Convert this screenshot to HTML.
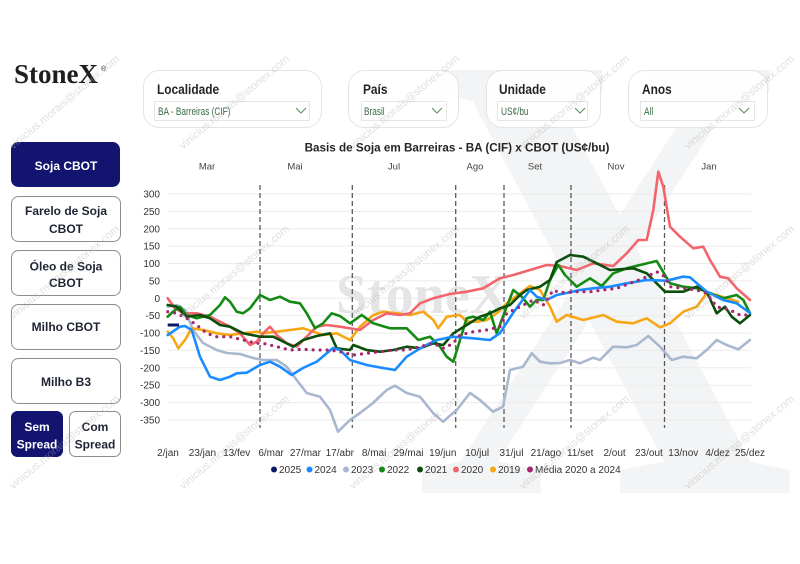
<!DOCTYPE html>
<html><head><meta charset="utf-8"><style>
html,body{margin:0;padding:0;background:#fff;width:800px;height:564px;overflow:hidden}
body{position:relative}
svg{display:block;position:absolute;left:0;top:0}
.s{font-family:"Liberation Sans",Arial,sans-serif}
#bx{position:absolute;left:400px;top:40px;width:400px;height:460px;overflow:hidden}
#bx span{position:absolute;left:12px;top:35px;height:400px;font-family:"Liberation Serif",serif;font-weight:bold;font-size:646px;line-height:400px;color:#f3f4f5;transform:scaleX(0.823);transform-origin:0 0;white-space:nowrap}
</style></head><body>
<div id="bx"><span>X</span></div>
<svg width="800" height="564" viewBox="0 0 800 564" xmlns="http://www.w3.org/2000/svg" class="s">

<!-- logo -->
<text x="14" y="83" font-family="Liberation Serif,serif" font-weight="bold" font-size="27" fill="#1e1e1e">StoneX</text>
<text x="101" y="71" font-size="7" fill="#1e1e1e">®</text>

<!-- filter cards -->
<g>
<rect x="143.5" y="70.5" width="178" height="57" rx="16" fill="#fff" fill-opacity="0.9" stroke="#e4e4e4"/>
<text font-size="14" font-weight="bold" fill="#252423" transform="translate(157,94) scale(0.85,1)">Localidade</text>
<rect x="154.5" y="101.5" width="155" height="19" fill="#fff" stroke="#e6e6e6"/>
<text font-size="11" fill="#3a6b45" transform="translate(158,115) scale(0.75,1)">BA - Barreiras (CIF)</text>
<polyline points="296,108 301,113 306,108" fill="none" stroke="#5a8a5a" stroke-width="1"/>

<rect x="348.5" y="70.5" width="110" height="57" rx="16" fill="#fff" fill-opacity="0.9" stroke="#e4e4e4"/>
<text font-size="14" font-weight="bold" fill="#252423" transform="translate(363,94) scale(0.85,1)">País</text>
<rect x="361.5" y="101.5" width="85" height="19" fill="#fff" stroke="#e6e6e6"/>
<text font-size="11" fill="#3a6b45" transform="translate(364,115) scale(0.75,1)">Brasil</text>
<polyline points="432,108 437,113 442,108" fill="none" stroke="#5a8a5a" stroke-width="1"/>

<rect x="486.5" y="70.5" width="114" height="57" rx="16" fill="#fff" fill-opacity="0.9" stroke="#e4e4e4"/>
<text font-size="14" font-weight="bold" fill="#252423" transform="translate(499,94) scale(0.85,1)">Unidade</text>
<rect x="497.5" y="101.5" width="90" height="19" fill="#fff" stroke="#e6e6e6"/>
<text font-size="11" fill="#3a6b45" transform="translate(501,115) scale(0.75,1)">US¢/bu</text>
<polyline points="575,108 580,113 585,108" fill="none" stroke="#5a8a5a" stroke-width="1"/>

<rect x="628.5" y="70.5" width="139" height="57" rx="16" fill="#fff" fill-opacity="0.9" stroke="#e4e4e4"/>
<text font-size="14" font-weight="bold" fill="#252423" transform="translate(642,94) scale(0.85,1)">Anos</text>
<rect x="640.5" y="101.5" width="114" height="19" fill="#fff" stroke="#e6e6e6"/>
<text font-size="11" fill="#3a6b45" transform="translate(644,115) scale(0.75,1)">All</text>
<polyline points="739,108 744,113 749,108" fill="none" stroke="#5a8a5a" stroke-width="1"/>
</g>

<!-- left buttons -->
<g font-size="12" font-weight="bold" text-anchor="middle">
<rect x="11.5" y="142.5" width="108" height="44" rx="7" fill="#121470" stroke="#121470"/>
<text x="66" y="170" fill="#fff">Soja CBOT</text>
<rect x="11.5" y="196.5" width="109" height="45" rx="7" fill="#fff" stroke="#8c8c8c"/>
<text x="66" y="215" fill="#1f2433">Farelo de Soja</text>
<text x="66" y="233" fill="#1f2433">CBOT</text>
<rect x="11.5" y="250.5" width="109" height="45" rx="7" fill="#fff" stroke="#8c8c8c"/>
<text x="66" y="270.5" fill="#1f2433">Óleo de Soja</text>
<text x="66" y="287" fill="#1f2433">CBOT</text>
<rect x="11.5" y="304.5" width="109" height="45" rx="7" fill="#fff" stroke="#8c8c8c"/>
<text x="66" y="331" fill="#1f2433">Milho CBOT</text>
<rect x="11.5" y="358.5" width="109" height="45" rx="7" fill="#fff" stroke="#8c8c8c"/>
<text x="66" y="386" fill="#1f2433">Milho B3</text>
<rect x="11.5" y="411.5" width="51" height="45" rx="6" fill="#121470" stroke="#121470"/>
<text x="37" y="431" fill="#fff">Sem</text>
<text x="37" y="448.5" fill="#fff">Spread</text>
<rect x="69.5" y="411.5" width="51" height="45" rx="6" fill="#fff" stroke="#8c8c8c"/>
<text x="95" y="431" fill="#1f2433">Com</text>
<text x="95" y="448.5" fill="#1f2433">Spread</text>
</g>

<!-- chart title and month labels -->
<text x="457" y="151.5" font-size="11.7" font-weight="bold" fill="#252423" text-anchor="middle">Basis de Soja em Barreiras - BA (CIF) x CBOT (US¢/bu)</text>
<g font-size="9.5" fill="#444" text-anchor="middle">
<text x="207" y="169.5">Mar</text><text x="295" y="169.5">Mai</text><text x="394" y="169.5">Jul</text>
<text x="475" y="169.5">Ago</text><text x="535" y="169.5">Set</text><text x="616" y="169.5">Nov</text><text x="709" y="169.5">Jan</text>
</g>

<!-- gridlines -->
<g stroke="#ebebeb" stroke-width="1">
<line x1="168" x2="751" y1="194" y2="194"/><line x1="168" x2="751" y1="211.4" y2="211.4"/>
<line x1="168" x2="751" y1="228.8" y2="228.8"/><line x1="168" x2="751" y1="246.1" y2="246.1"/>
<line x1="168" x2="751" y1="263.5" y2="263.5"/><line x1="168" x2="751" y1="280.9" y2="280.9"/>
<line x1="168" x2="751" y1="298.3" y2="298.3"/><line x1="168" x2="751" y1="315.7" y2="315.7"/>
<line x1="168" x2="751" y1="333.1" y2="333.1"/><line x1="168" x2="751" y1="350.4" y2="350.4"/>
<line x1="168" x2="751" y1="367.8" y2="367.8"/><line x1="168" x2="751" y1="385.2" y2="385.2"/>
<line x1="168" x2="751" y1="402.6" y2="402.6"/><line x1="168" x2="751" y1="420" y2="420"/>
</g>
<g font-size="10" fill="#333" text-anchor="end">
<text x="160" y="197.5">300</text><text x="160" y="214.9">250</text><text x="160" y="232.3">200</text>
<text x="160" y="249.6">150</text><text x="160" y="267">100</text><text x="160" y="284.4">50</text>
<text x="160" y="301.8">0</text><text x="160" y="319.2">-50</text><text x="160" y="336.6">-100</text>
<text x="160" y="353.9">-150</text><text x="160" y="371.3">-200</text><text x="160" y="388.7">-250</text>
<text x="160" y="406.1">-300</text><text x="160" y="423.5">-350</text>
</g>

<!-- StoneX center watermark -->
<text x="336" y="313" font-family="Liberation Serif,serif" font-weight="bold" font-size="56" fill="#e5e5e5">StoneX</text>

<!-- dashed verticals -->
<g stroke="#5a5a5a" stroke-width="1.3" stroke-dasharray="5,3">
<line x1="260" x2="260" y1="185" y2="428"/><line x1="352.3" x2="352.3" y1="185" y2="428"/>
<line x1="455.7" x2="455.7" y1="185" y2="428"/><line x1="504" x2="504" y1="185" y2="428"/>
<line x1="571" x2="571" y1="185" y2="428"/><line x1="664.5" x2="664.5" y1="185" y2="428"/>
</g>

<!-- series -->
<g fill="none" stroke-width="2.6" stroke-linejoin="round" stroke-linecap="round">
<polyline stroke="#a9b7cf" points="167.7,306.7 176.7,305 185,310 193,330 203,343 216.7,350 226.7,353 240,354 253,358 263,360 276.7,360 286.7,366.7 296.7,380 306.7,393 320,396.7 330,410 338,431.7 350,420 360,413 373,403 386.7,390 395,385.7 406.7,393 420,396.7 433,413 443,421.7 456.7,410 470,393 480,400 493,411.7 503,406.7 510,370 523,366.7 531.7,353.3 540,361.7 550,363.3 560,363 570,360 580,363.3 593,357.7 600,360 613,346.7 626.7,347.3 636.7,345 648.3,336 660,346.7 671.7,360 683,356.7 696.7,358.3 706.7,350 716.7,340 726.7,345 738.3,349.3 750,340"/>
<polyline stroke="#f7a614" points="167.7,331.7 173.3,338.3 178.3,348.3 185,340 191.7,328.3 203.3,330 216.7,333.3 230,335 243.3,333.3 256.7,331.7 263.3,333.3 276.7,331.7 290,330 303.3,328.3 313.3,331.7 323.3,335 336.7,333.3 350,340 360,326.7 373.3,315 383.3,311.7 396.7,313.3 410,315 423.3,311.7 433.3,320 438.3,328.3 446.7,316.7 460,315 466.7,321.7 476.7,321.7 486.7,320 496.7,313.3 506.7,303.3 520,293.3 530,286 540,290 550,306.7 556.7,321.7 566.7,315 583.3,320 603.3,315 616.7,321.7 633.3,323.3 646.7,318.3 660,327.3 670,323.3 683.3,311.7 696.7,306.7 706.7,293.3 716.7,295 726.7,298.3 738.3,301.7"/>
<polyline stroke="#f2656c" points="167.7,298.3 175,308.3 183.3,313.3 196.7,313.3 210,316.7 220,321.7 230,326.7 240,333.3 250,345 256.7,341.7 263.3,333.3 270,326.7 276.7,335 286.7,343.3 296.7,346.7 306.7,336.7 316.7,326.7 326.7,325 340,326.7 350,328.3 360,330 373.3,320 386.7,313.3 400,315 410,313.3 420,303.3 433.3,298.3 450,294 466.7,291.7 483.3,288.3 500,278.3 513.3,275 530,270 546.7,265 560,266 576.7,270 593.3,263.3 613.3,266 626.7,253.3 638.3,240 646.7,240 653.3,210 658.3,171.7 663.3,186.7 670,226.7 680,236.7 693.3,248.3 703.3,246.7 710,260 720,276.7 728.3,278.3 736.7,288.3 750,300"/>
<polyline stroke="#138a12" points="167.7,316.7 173,311.7 180,306.7 186.7,315 196.7,318.3 210,315 220,305 225,297.3 230,301.7 236.7,311.7 243,313.3 250,308.3 260,295 270,300 280,296.7 290,301.7 300,303.3 306.7,313.3 315,328.3 323,323.3 331.7,313.3 340,316 350,323.3 361.7,315 373.3,323.3 390,328.3 406.7,328.3 418.3,340 430,336.7 440,346.7 446.7,356.7 453.3,361.7 460,340 466.7,318.3 473.3,316.7 483.3,320 490,311.7 496.7,333.3 506.7,306.7 513.3,290 521.7,296.7 530,306.7 536.7,300 543.3,300 550,280 558.3,265 565,275 576.7,286.7 590,278.3 601.7,286 613.3,273.3 626.7,268.3 640,265 656.7,261 665,275 670,283.3 683.3,286.7 696.7,288.3 706.7,291.7 723.3,298.3 736.7,295 743.3,300 750,313.3"/>
<polyline stroke="#0b4f0b" points="167.7,305 176.7,306.7 186.7,316.7 200,315 210,318.3 220,325 230,326.7 243.3,333.3 260,336.7 273.3,336.7 286.7,343.3 293.3,346.7 303.3,340 316.7,336 330,333.3 336.7,348.3 350,350 353.3,345 366.7,350 380,351.7 393.3,350 406.7,346.7 420,348.3 433.3,343.3 443.3,345 453.3,333.3 466.7,325 480,316.7 490,313.3 500,308.3 510,305 520,295 526.7,290 540,286.7 550,280 556.7,262 570,255 583.3,256.7 596.7,263.3 610,270 633.3,268.3 646.7,273.3 665,291.7 683.3,291.7 696.7,286.7 706.7,291.7 716.7,313.3 725,306.7 731.7,316.7 740,323.3 750,315"/>
<polyline stroke="#1a8cff" points="167.7,335 180,326.7 185,326 191.7,330 200,356.7 210,376.7 220,380 230,376.7 236.7,373.3 246.7,372.7 260,365 270,361.7 280,366.7 291.7,375 303,368 316.7,361.7 333,348 340,350 350,360 366.7,365 383,368 395,370 406.7,356.7 423,346.7 436.7,340 453,336.7 473,338.3 490,340 500,333 513,313 530,290 536.7,296.7 546.7,300 556.7,295 566.7,293 580,290 593,288.3 610,286.7 626.7,283.3 646.7,280 666.7,280.7 683,276.7 690,277.3 706.7,291.7 723,300 736.7,303.3 750,313"/>
<polyline stroke="#a4276f" stroke-width="3.2" stroke-dasharray="0 7" points="167.7,311.7 176.7,313.3 186.7,318.3 196.7,325 206.7,333.3 216.7,336.7 230,336.7 243.3,340 256.7,343.3 263.3,343.3 276.7,346.7 290,350 303.3,349.3 316.7,350 330,350 340,351.7 353.3,355 366.7,353.3 380,351.7 393.3,350 406.7,350 420,346.7 433.3,343.3 443.3,348.3 453.3,343.3 460,335 473.3,331.7 486.7,330 500,326.7 506.7,313.3 520,306.7 533.3,300 543.3,305 553.3,290 560,292.7 576.7,291.7 590,291.7 603.3,290 616.7,288.3 630,283.3 643.3,278.3 656.7,271.7 665,276.7 670,286.7 683.3,288.3 696.7,290 706.7,293.3 716.7,306.7 730,310 740,315 750,315"/>
<polyline stroke="#0b1a63" stroke-width="3" stroke-linecap="butt" points="167.7,325 179,325"/>
</g>

<!-- x labels -->
<g font-size="10" fill="#333" text-anchor="middle">
<text x="168" y="456">2/jan</text><text x="202.4" y="456">23/jan</text><text x="236.7" y="456">13/fev</text>
<text x="271.1" y="456">6/mar</text><text x="305.4" y="456">27/mar</text><text x="339.8" y="456">17/abr</text>
<text x="374.1" y="456">8/mai</text><text x="408.5" y="456">29/mai</text><text x="442.8" y="456">19/jun</text>
<text x="477.2" y="456">10/jul</text><text x="511.5" y="456">31/jul</text><text x="545.9" y="456">21/ago</text>
<text x="580.2" y="456">11/set</text><text x="614.6" y="456">2/out</text><text x="648.9" y="456">23/out</text>
<text x="683.3" y="456">13/nov</text><text x="717.6" y="456">4/dez</text><text x="750" y="456">25/dez</text>
</g>

<!-- legend -->
<g font-size="10" fill="#333">
<circle cx="274" cy="469.5" r="3" fill="#0b1a63"/><text x="279" y="473">2025</text>
<circle cx="309.5" cy="469.5" r="3" fill="#1a8cff"/><text x="314.5" y="473">2024</text>
<circle cx="346" cy="469.5" r="3" fill="#a9b7cf"/><text x="351" y="473">2023</text>
<circle cx="382" cy="469.5" r="3" fill="#138a12"/><text x="387" y="473">2022</text>
<circle cx="420" cy="469.5" r="3" fill="#0b4f0b"/><text x="425" y="473">2021</text>
<circle cx="456" cy="469.5" r="3" fill="#f2656c"/><text x="461" y="473">2020</text>
<circle cx="493" cy="469.5" r="3" fill="#f7a614"/><text x="498" y="473">2019</text>
<circle cx="530" cy="469.5" r="3" fill="#a4276f"/><text x="535" y="473">Média 2020 a 2024</text>
</g>

<!-- email watermarks -->
<g font-size="11" fill="#b0b0b0" fill-opacity="0.4" text-anchor="end">
<text x="120" y="60" transform="rotate(-40 120 60)">vinicius.morais@stonex.com</text>
<text x="290" y="60" transform="rotate(-40 290 60)">vinicius.morais@stonex.com</text>
<text x="460" y="60" transform="rotate(-40 460 60)">vinicius.morais@stonex.com</text>
<text x="630" y="60" transform="rotate(-40 630 60)">vinicius.morais@stonex.com</text>
<text x="795" y="60" transform="rotate(-40 795 60)">vinicius.morais@stonex.com</text>
<text x="120" y="230" transform="rotate(-40 120 230)">vinicius.morais@stonex.com</text>
<text x="290" y="230" transform="rotate(-40 290 230)">vinicius.morais@stonex.com</text>
<text x="460" y="230" transform="rotate(-40 460 230)">vinicius.morais@stonex.com</text>
<text x="630" y="230" transform="rotate(-40 630 230)">vinicius.morais@stonex.com</text>
<text x="795" y="230" transform="rotate(-40 795 230)">vinicius.morais@stonex.com</text>
<text x="120" y="400" transform="rotate(-40 120 400)">vinicius.morais@stonex.com</text>
<text x="290" y="400" transform="rotate(-40 290 400)">vinicius.morais@stonex.com</text>
<text x="460" y="400" transform="rotate(-40 460 400)">vinicius.morais@stonex.com</text>
<text x="630" y="400" transform="rotate(-40 630 400)">vinicius.morais@stonex.com</text>
<text x="795" y="400" transform="rotate(-40 795 400)">vinicius.morais@stonex.com</text>
</g>
</svg>
</body></html>
